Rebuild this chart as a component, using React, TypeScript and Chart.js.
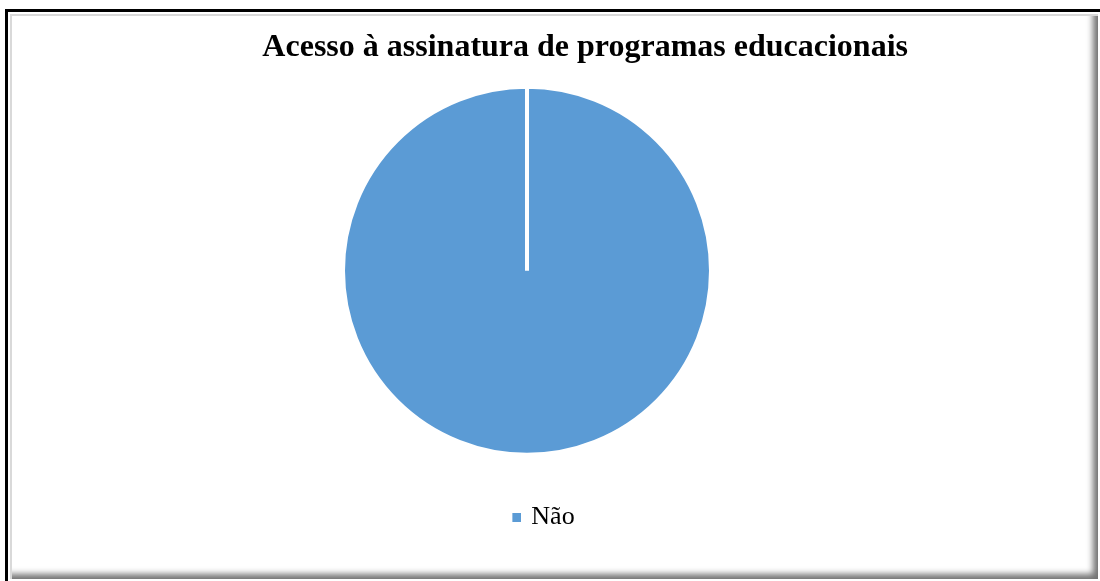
import React, { useEffect, useRef } from "react";
import { Chart, registerables } from "chart.js";

Chart.register(...registerables);

const categories: string[] = ["Não"];
const seriesValues: number[] = [100];
const sliceColors: string[] = ["#5B9BD5"];
const chartTitle = "Acesso à assinatura de programas educacionais";

const FONT_FAMILY = "'Liberation Serif', 'Times New Roman', serif";

function makeLegendMarker(color: string): HTMLCanvasElement {
  // marker image: transparent on the left, 9px square on the right end
  const c = document.createElement("canvas");
  c.width = 45;
  c.height = 9;
  const g = c.getContext("2d");
  if (g) {
    g.fillStyle = color;
    g.fillRect(36, 0, 9, 9);
  }
  return c;
}

export default function App() {
  const canvasRef = useRef<HTMLCanvasElement | null>(null);

  useEffect(() => {
    if (!canvasRef.current) return;
    const marker = makeLegendMarker(sliceColors[0]);
    const chart = new Chart(canvasRef.current, {
      type: "pie",
      data: {
        labels: categories,
        datasets: [
          {
            data: seriesValues,
            backgroundColor: sliceColors,
            borderColor: "#FFFFFF",
            borderWidth: 4,
            hoverOffset: 0,
            hoverBorderWidth: 4,
          },
        ],
      },
      options: {
        responsive: false,
        animation: false,
        events: [],
        radius: 184,
        layout: {
          padding: { left: 146, right: 192, top: 0, bottom: 41 },
        },
        plugins: {
          title: {
            display: true,
            text: chartTitle,
            align: "end",
            color: "#000000",
            font: { family: FONT_FAMILY, size: 32, weight: "bold", lineHeight: 1.2 },
            padding: { top: 29, bottom: 0 },
          },
          legend: {
            display: true,
            position: "bottom",
            align: "center",
            labels: {
              color: "#000000",
              font: { family: FONT_FAMILY, size: 26, lineHeight: 1.2 },
              usePointStyle: true,
              pointStyle: marker as any,
              pointStyleWidth: 39,
              boxHeight: 9,
              padding: 30,
            },
          },
          tooltip: { enabled: false },
        },
      } as any,
    });
    return () => {
      chart.destroy();
    };
  }, []);

  return (
    <div
      style={{
        position: "fixed",
        left: 0,
        top: 0,
        width: 1100,
        height: 581,
        background: "#FFFFFF",
        overflow: "hidden",
      }}
    >
      <div
        style={{
          position: "absolute",
          left: 5,
          top: 9,
          width: 1095,
          height: 572,
          borderTop: "3px solid #000",
          borderLeft: "3px solid #000",
          boxSizing: "border-box",
        }}
      />
      <div
        style={{
          position: "absolute",
          left: 10,
          top: 14,
          width: 1088,
          height: 565,
          boxSizing: "border-box",
          boxShadow:
            "inset 2px 2px 0 #D9D9D9, inset -7px -7px 6px -2px rgba(0,0,0,0.55)",
        }}
      />
      <canvas
        ref={canvasRef}
        width={1100}
        height={581}
        style={{
          position: "absolute",
          left: 0,
          top: 0,
          width: 1100,
          height: 581,
          display: "block",
        }}
      />
    </div>
  );
}
